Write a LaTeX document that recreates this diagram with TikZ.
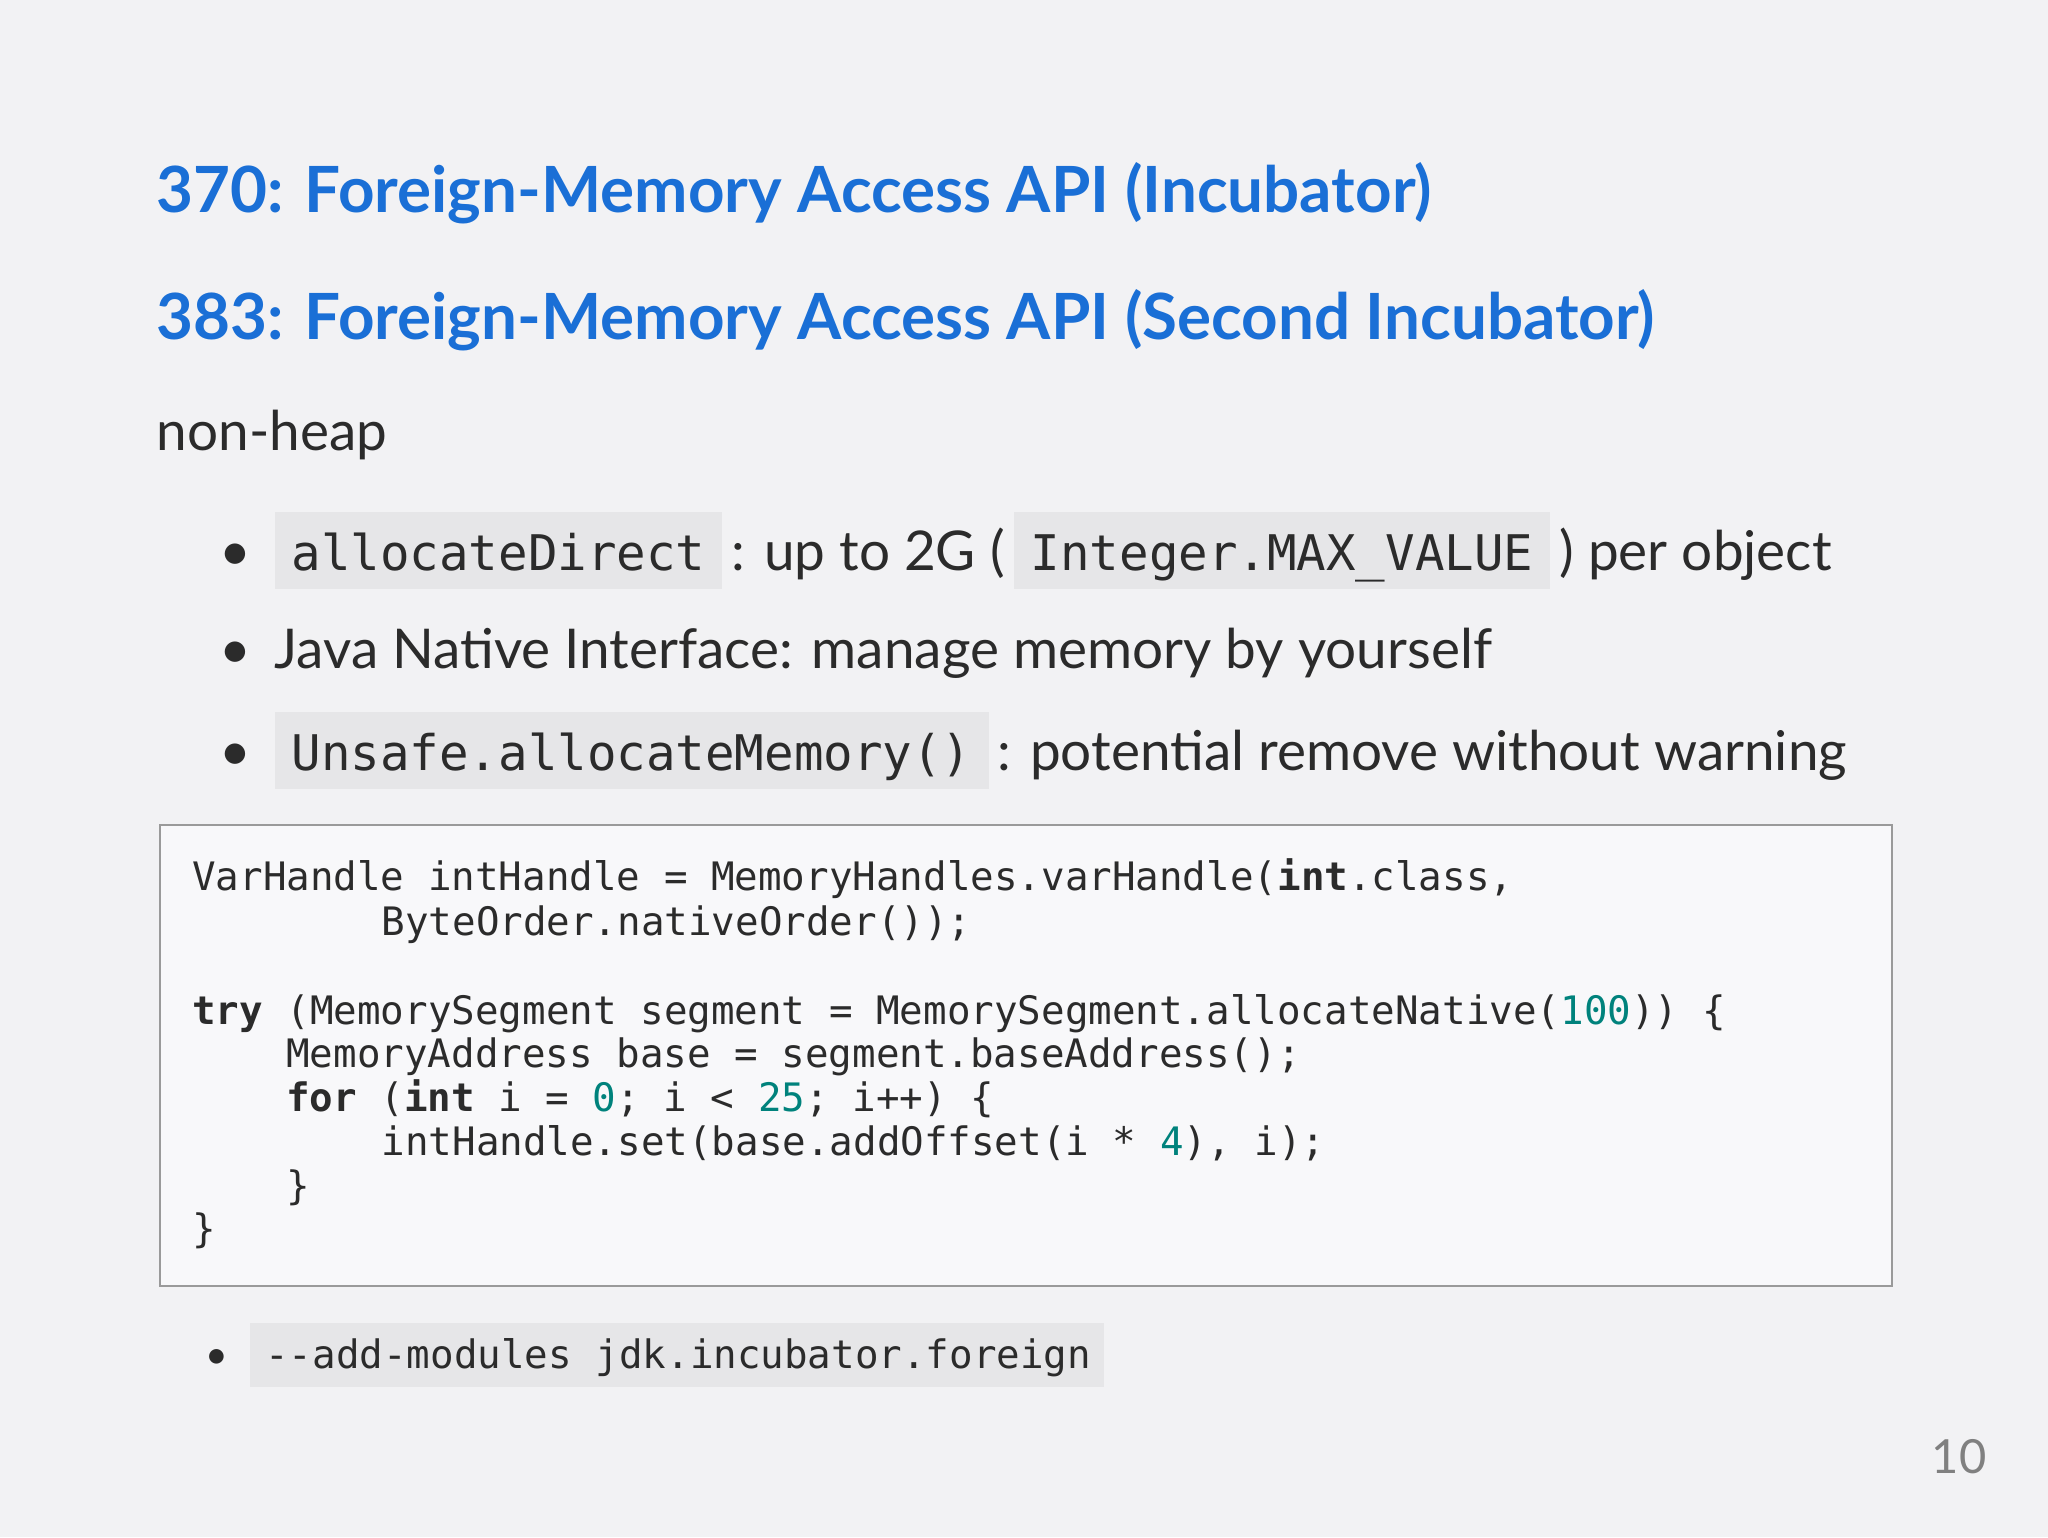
\documentclass[tikz,border=0pt]{standalone}
\usepackage{fontspec}
\setmainfont{Lato}
\setmonofont{DejaVu Sans Mono}
\definecolor{bg}{HTML}{F2F2F4}
\definecolor{ttl}{HTML}{1A6FD6}
\definecolor{txt}{HTML}{2B2B2B}
\definecolor{codebg}{HTML}{E6E6E8}
\definecolor{boxbg}{HTML}{F8F8FA}
\definecolor{boxbd}{HTML}{9A9A9A}
\definecolor{num}{HTML}{00827C}
\newcommand{\ic}[1]{{\setlength\fboxsep{0pt}\colorbox{codebg}{\rule[-14pt]{0pt}{59pt}\hspace{13pt}{\fontsize{37.6}{40}\ttfamily #1}\hspace{13pt}}}}
\newcommand{\nm}[1]{\textcolor{num}{#1}}
\begin{document}
\begin{tikzpicture}[x=1pt,y=-1pt,
  ttlst/.style={anchor=base west,inner sep=0,text=ttl,font=\fontsize{48.8}{52}\selectfont\bfseries},
  bodyst/.style={anchor=base west,inner sep=0,text=txt,font=\fontsize{42}{46}\selectfont},
  codest/.style={anchor=base west,inner sep=0,text=txt,font=\fontsize{30}{34}\ttfamily}]
\path[fill=bg] (0,0) rectangle (1568,1177);
\path[use as bounding box] (0,0) rectangle (1568,1177);
\node[ttlst] (t1) at (120,163) {370: Foreign-Memory Access API (Incubator)};
\node[ttlst] (t2) at (120,260) {383: Foreign-Memory Access API (Second Incubator)};
\node[bodyst] (nh) at (120,345) {non-heap};
\node[bodyst] (b1d) at (168,437) {•};
\node[bodyst] (b1) at (210,437) {\ic{allocateDirect}\,: up to 2G (\,\ic{Integer.MAX\_VALUE}\,) per object};
\node[bodyst] (b2d) at (168,512) {•};
\node[bodyst] (b2) at (210,512) {Java Native Interface: manage memory by yourself};
\node[bodyst] (b3d) at (168,590) {•};
\node[bodyst] (b3) at (210,590) {\ic{Unsafe.allocateMemory()}\,: potential remove without warning};
\node[draw=boxbd,fill=boxbg,line width=1.2pt,minimum width=1326pt,minimum height=353pt,anchor=north west,inner sep=0] (box) at (122,631) {};
\node[codest] (c1) at (147,682) {VarHandle intHandle = MemoryHandles.varHandle(\textbf{int}.class,};
\node[codest] (c2) at (292,716) {ByteOrder.nativeOrder());};
\node[codest] (c3) at (147,784) {\textbf{try} (MemorySegment segment = MemorySegment.allocateNative(\nm{100})) \{};
\node[codest] (c4) at (219,817) {MemoryAddress base = segment.baseAddress();};
\node[codest] (c5) at (219,851) {\textbf{for} (\textbf{int} i = \nm{0}; i < \nm{25}; i++) \{};
\node[codest] (c6) at (292,885) {intHandle.set(base.addOffset(i * \nm{4}), i);};
\node[codest] (c7) at (219,918) {\}};
\node[codest] (c8) at (147,951) {\}};
\node[bodyst,font=\fontsize{30}{34}\selectfont] (b4d) at (157,1048) {•};
\node[anchor=base west,inner sep=0] (b4) at (191,1048) {{\setlength\fboxsep{0pt}\colorbox{codebg}{\rule[-14pt]{0pt}{49pt}\hspace{12pt}{\fontsize{30}{34}\ttfamily\color{txt}-{}-add-modules jdk.incubator.foreign}\hspace{10pt}}}};
\node[anchor=base east,inner sep=0,text=gray,font=\fontsize{36}{40}\selectfont] (pg) at (1521,1128) {10};
\end{tikzpicture}
\end{document}
